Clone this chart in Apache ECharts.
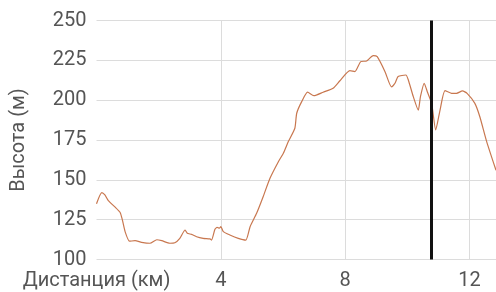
<!DOCTYPE html>
<html>
<head>
<meta charset="utf-8">
<script src="https://cdn.jsdelivr.net/npm/echarts@6/dist/echarts.min.js"></script>
<style>
  html, body { margin: 0; padding: 0; background: #fff; }
  #chart { width: 496px; height: 292px; }
</style>
</head>
<body>
<div id="chart"></div>
<script>
/* ---------------- DATA ---------------- */

// distance along the route, km
const DISTANCE = [
    0, 0.17, 0.27, 0.38, 0.59, 0.76, 0.83, 0.92, 1.06, 1.24,
    1.45, 1.72, 1.94, 2.10, 2.36, 2.52, 2.68, 2.85, 2.92, 3.06,
    3.22, 3.43, 3.65, 3.70, 3.81, 3.88, 3.95, 4.0, 4.08, 4.29,
    4.56, 4.80, 4.94, 5.15, 5.36, 5.58, 5.85, 6.01, 6.17, 6.38,
    6.44, 6.60, 6.79, 6.99, 7.29, 7.61, 7.83, 8.15, 8.31, 8.50,
    8.69, 8.90, 9.03, 9.28, 9.49, 9.60, 9.70, 9.95, 10.03, 10.19,
    10.35, 10.42, 10.54, 10.64, 10.78, 10.91, 11.05, 11.21, 11.42, 11.58,
    11.77, 11.92, 12.17, 12.33, 12.55, 12.85,
];

// elevation, m
const ELEVATION = [
    135, 142, 140.5, 137, 133, 129.5, 125, 117.5, 111.5, 111.8,
    110.8, 110.2, 112.4, 111.8, 110.2, 110.5, 113.3, 118.5, 116.4, 115.8,
    114.3, 113.3, 112.9, 112.2, 119, 120.2, 119.6, 120.6, 117.5, 115.4,
    113.3, 112.2, 120.6, 129, 139.4, 151, 161.4, 166.7, 174, 182.4,
    191.8, 199.1, 205, 202.8, 205, 207.5, 212.2, 218.5, 217.9, 224.2,
    224.6, 227.9, 227.3, 217.9, 208.3, 210.6, 214.8, 215.8, 212.7, 202.2,
    193.8, 202.2, 210.6, 205.3, 198, 181.3, 193.8, 206, 204.3, 204.3,
    205.8, 204.3, 198, 189.6, 174, 156,
];

const X_TICKS = { 0: "Дистанция (км)" };
const Y_MIN = 100, Y_MAX = 250, Y_STEP = 25;
const X_MAX = 12.85, X_STEP = 4;
const MARKER_KM = 10.78;

/* ---------------- CHART ---------------- */

const chart = echarts.init(document.getElementById("chart"));

const labelStyle = {
    color: "#555",
    fontSize: 20,
    fontFamily: "Roboto",
};

chart.setOption({
    animation: false,
    grid: {
        left: 96.5,
        right: 0,
        top: 20.5,
        bottom: 32.5,
    },
    xAxis: {
        type: "value",
        min: 0,
        max: X_MAX,
        interval: X_STEP,
        axisLine: { show: false },
        axisTick: { show: false },
        splitLine: {
            show: true,
            showMinLine: false,
            showMaxLine: false,
            lineStyle: { color: "#dcdcdc", width: 1 },
        },
        axisLabel: {
            ...labelStyle,
            margin: 11,
            showMaxLabel: false,
            formatter: (v) => X_TICKS[v] ?? String(v),
        },
    },
    yAxis: {
        type: "value",
        min: Y_MIN,
        max: Y_MAX,
        interval: Y_STEP,
        name: "Высота (м)",
        nameLocation: "middle",
        nameGap: 68,
        nameTextStyle: { ...labelStyle },
        axisLine: { show: false },
        axisTick: { show: false },
        splitLine: {
            lineStyle: { color: "#dcdcdc", width: 1 },
        },
        axisLabel: { ...labelStyle, margin: 10 },
    },
    series: [
        {
            type: "line",
            data: DISTANCE.map((d, i) => [d, ELEVATION[i]]),
            showSymbol: false,
            smooth: 0.2,
            lineStyle: { color: "#c8774f", width: 1.2 },
            markLine: {
                silent: true,
                symbol: "none",
                label: { show: false },
                lineStyle: { color: "#111", width: 3, type: "solid" },
                data: [{ xAxis: MARKER_KM }],
            },
        },
    ],
});
</script>
</body>
</html>
